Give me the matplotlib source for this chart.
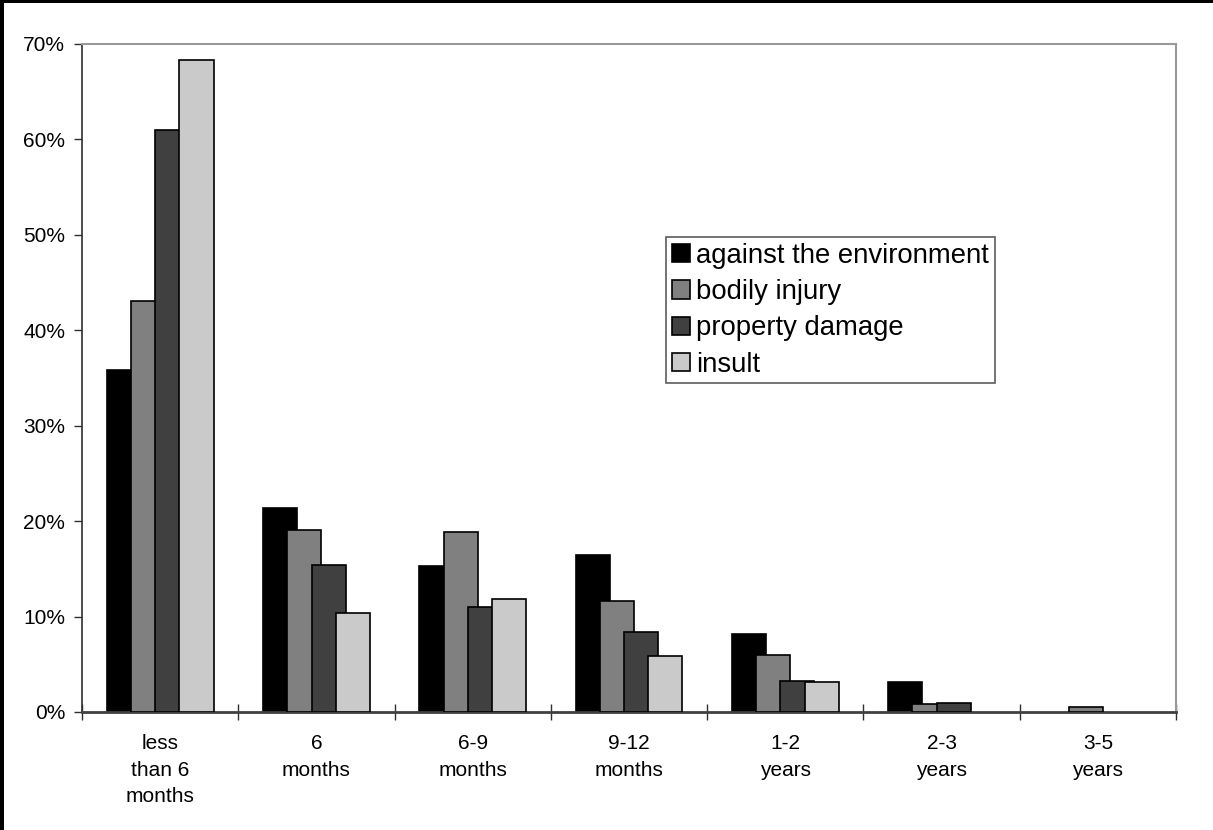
import numpy as np
import matplotlib
matplotlib.use("Agg")
import matplotlib.pyplot as plt
from matplotlib.ticker import FuncFormatter, FixedLocator

plt.rcParams['font.family'] = ['Liberation Sans', 'DejaVu Sans']

# Data (shares per sentence length)
categories = ["less\nthan 6\nmonths", "6\nmonths", "6-9\nmonths", "9-12\nmonths",
              "1-2\nyears", "2-3\nyears", "3-5\nyears"]
series_names = ["against the environment", "bodily injury", "property damage", "insult"]
environment = [35.8, 21.4, 15.3, 16.4, 8.2, 3.1, 0.0]
bodily_injury = [43.1, 19.1, 18.9, 11.6, 6.0, 0.8, 0.5]
property_damage = [61.0, 15.4, 11.0, 8.4, 3.2, 0.9, 0.0]
insult = [68.3, 10.4, 11.8, 5.9, 3.1, 0.0, 0.0]
series_values = [environment, bodily_injury, property_damage, insult]
colors = ["#000000", "#808080", "#404040", "#cacaca"]

fig = plt.figure(figsize=(12.13, 8.30), dpi=100, facecolor='white')
ax = fig.add_axes([0.0676, 0.1422, 0.9019, 0.8048])

x = np.arange(len(categories))
width = 0.218
step = 0.155
for i, (vals, col, name) in enumerate(zip(series_values, colors, series_names)):
    vals = np.array(vals) / 100
    keep = vals > 0  # empty cells draw nothing
    offs = (i - 1.5) * step
    ax.bar(x[keep] + offs, vals[keep], width=width, color=col,
           edgecolor="black", linewidth=1.2, label=name, zorder=2 + i)

ax.set_xlim(-0.5, len(categories) - 0.5)
ax.set_ylim(0, 0.70)
ax.set_yticks(np.arange(0, 0.71, 0.1))
ax.yaxis.set_major_formatter(FuncFormatter(lambda v, p: f"{v*100:.0f}%"))
ax.tick_params(axis='y', direction='out', length=6, width=1, pad=6,
               labelsize=15, color='#303030')

# category boundaries get ticks, labels sit at centers
ax.xaxis.set_major_locator(FixedLocator(np.arange(-0.5, len(categories), 1.0)))
ax.xaxis.set_minor_locator(FixedLocator(x))
ax.set_xticklabels([""] * (len(categories) + 1))
ax.set_xticklabels(categories, minor=True, fontsize=15, linespacing=1.5)
ax.tick_params(axis='x', which='major', direction='inout', length=12, width=1,
               color='#303030')
ax.tick_params(axis='x', which='minor', length=0, pad=16)

for s in ['top', 'right']:
    ax.spines[s].set_color('#999999')
    ax.spines[s].set_linewidth(1.5)
ax.spines['left'].set_color('#303030')
ax.spines['bottom'].set_color('#404040')
ax.spines['bottom'].set_linewidth(2)
ax.spines['left'].set_linewidth(1.2)

leg = ax.legend(loc='upper left', bbox_to_anchor=(0.534, 0.711), fontsize=19.8,
                frameon=True, fancybox=False, shadow=False, borderpad=0.2,
                handlelength=0.65, handleheight=0.65, handletextpad=0.25,
                labelspacing=0.38, borderaxespad=0)
leg.get_frame().set_edgecolor('#333333')
leg.get_frame().set_linewidth(1.2)

# outer frame: only the top and left edges show in the picture
fig.patches.append(plt.Rectangle((0, 0), 0.003, 1, transform=fig.transFigure,
                                 facecolor='black', edgecolor='none', figure=fig))
fig.patches.append(plt.Rectangle((0, 0.9964), 1, 0.0036, transform=fig.transFigure,
                                 facecolor='black', edgecolor='none', figure=fig))

fig.savefig("out.png", dpi=100, facecolor='white')
